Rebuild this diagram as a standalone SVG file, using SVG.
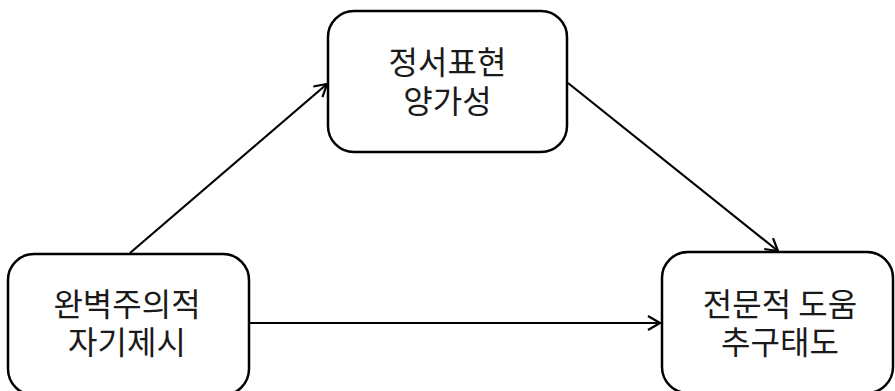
<svg xmlns="http://www.w3.org/2000/svg" width="895" height="391" viewBox="0 0 895 391">
  <style>
    .box { fill: #ffffff; stroke: #000000; stroke-width: 2.5; }
    .lbl { font-family: "Noto Sans CJK KR", "Noto Sans", sans-serif; font-size: 32px; fill: #1a1a1a; text-anchor: middle; }
    .conn { stroke: #000000; stroke-width: 2.2; fill: none; marker-end: url(#arr); }
  </style>
  <defs>
    <marker id="arr" viewBox="0 0 14 16" refX="13" refY="8" markerWidth="14" markerHeight="16" markerUnits="userSpaceOnUse" orient="auto">
      <path d="M1,1 L13,8 L1,15" fill="none" stroke="#000000" stroke-width="2.2"/>
    </marker>
  </defs>
  <rect width="895" height="391" fill="#ffffff"/>
  <g id="connectors">
    <line class="conn" x1="130" y1="253" x2="327" y2="84"/>
    <line class="conn" x1="568" y1="83" x2="778" y2="251"/>
    <line class="conn" x1="250" y1="323" x2="660" y2="323"/>
  </g>
  <g id="node-emotion">
    <rect class="box" x="328" y="11" width="239" height="141" rx="26" ry="26"/>
    <text class="lbl" x="447.5" y="74"><tspan x="447.5" y="74">정서표현</tspan><tspan x="447.5" y="113">양가성</tspan></text>
  </g>
  <g id="node-perfectionism">
    <rect class="box" x="8" y="254" width="241" height="141" rx="26" ry="26"/>
    <text class="lbl" x="127" y="316"><tspan x="127" y="316">완벽주의적</tspan><tspan x="127" y="354">자기제시</tspan></text>
  </g>
  <g id="node-help">
    <rect class="box" x="662" y="252" width="231" height="141" rx="26" ry="26"/>
    <text class="lbl" x="780" y="316"><tspan x="780" y="316">전문적 도움</tspan><tspan x="780" y="354">추구태도</tspan></text>
  </g>
</svg>
